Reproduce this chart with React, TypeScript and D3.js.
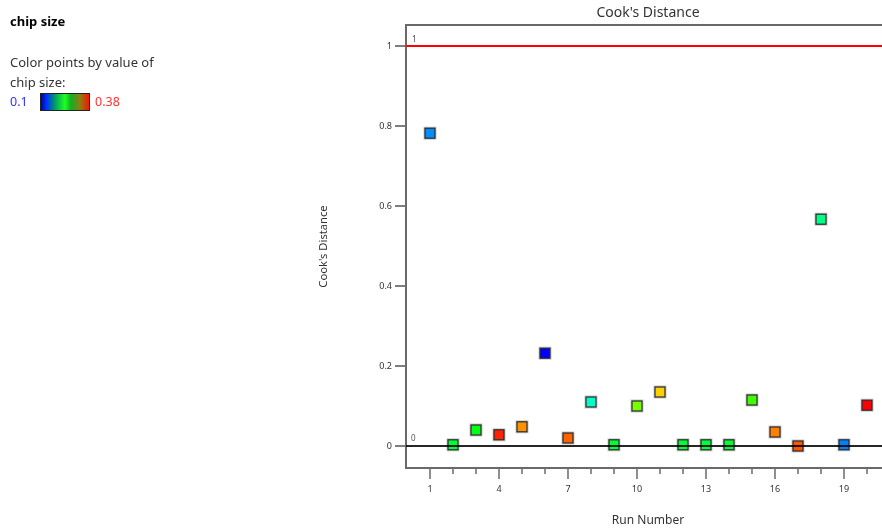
import React from 'react';
import * as d3 from 'd3';

// Run numbers, Cook's distance and chip size (used for colour)
const runs = d3.range(1, 21);
const cooks = [0.782, 0.003, 0.04, 0.028, 0.048, 0.232, 0.02, 0.11, 0.003, 0.1,
  0.135, 0.003, 0.003, 0.003, 0.115, 0.035, 0.0, 0.567, 0.003, 0.102];
const chipSize = [0.139, 0.225, 0.235, 0.37, 0.34, 0.1, 0.353, 0.185, 0.225, 0.273,
  0.323, 0.225, 0.225, 0.225, 0.258, 0.345, 0.357, 0.203, 0.135, 0.38];
const yTicks = [0, 0.2, 0.4, 0.6, 0.8, 1];
const xTickLabels = [1, 4, 7, 10, 13, 16, 19];
const chipRange = [0.1, 0.38];
const limitValue = 1;

const font = "'Noto Sans', 'Open Sans', sans-serif";

const App = () => {
  const width = 882;
  const height = 529;
  const marginLeft = 406;
  const marginTop = 25;
  const plotRight = 890;
  const plotBottom = 468;

  const x = d3.scaleLinear().domain([0, 21]).range([marginLeft + 1, plotRight]);
  const y = d3.scaleLinear().domain([0, 1]).range([446, 46]);

  // Design-Expert style hue ramp: blue (low) -> green -> red (high)
  const hue = d3.scaleLinear().domain(chipRange).range([240, 0]);
  const color = (v: number) => d3.hsl(hue(v), 1, 0.5).formatHex();

  const cx = (marginLeft + plotRight) / 2;
  const sq = 10;

  return (
    <div style={{ position: 'fixed', left: 0, top: 0 }}>
      <svg width={width} height={height} style={{ display: 'block', fontFamily: font }}>
        <defs>
          <linearGradient id="ramp" x1="0" x2="1" y1="0" y2="0">
            <stop offset="0" stopColor="#00008a" />
            <stop offset="0.12" stopColor="#0030ff" />
            <stop offset="0.3" stopColor="#00a060" />
            <stop offset="0.5" stopColor="#20ff20" />
            <stop offset="0.62" stopColor="#10b020" />
            <stop offset="0.8" stopColor="#8a8010" />
            <stop offset="1" stopColor="#ff1000" />
          </linearGradient>
          <clipPath id="plot">
            <rect x={marginLeft} y={marginTop} width={plotRight - marginLeft} height={plotBottom - marginTop} />
          </clipPath>
        </defs>

        {/* legend */}
        <text x={10} y={26} fontSize={13} fontWeight="bold" fill="#000">chip size</text>
        <text x={10} y={67} fontSize={13} fill="#333">Color points by value of</text>
        <text x={10} y={87} fontSize={13} fill="#333">chip size:</text>
        <text x={10} y={106} fontSize={12.5} fill="#3030ff">{chipRange[0]}</text>
        <rect x={40.5} y={93.5} width={49} height={17} fill="url(#ramp)" stroke="#222" strokeWidth={1} />
        <text x={95} y={106} fontSize={12.5} fill="#ff3030">{chipRange[1]}</text>

        {/* title and axis titles */}
        <text x={cx} y={17} fontSize={14} textAnchor="middle" fill="#333">Cook's Distance</text>
        <text x={648} y={524} fontSize={12} textAnchor="middle" fill="#333">Run Number</text>
        <text transform={`translate(327,${(marginTop + plotBottom) / 2}) rotate(-90)`} fontSize={11.2}
          textAnchor="middle" fill="#333">Cook's Distance</text>

        {/* y axis ticks */}
        {yTicks.map(t => (
          <g key={t}>
            <line x1={395} x2={marginLeft} y1={y(t)} y2={y(t)} stroke="#555" strokeWidth={1.5} />
            <text x={392} y={y(t) + 3} fontSize={9} textAnchor="end" fill="#333">{t}</text>
          </g>
        ))}

        {/* x axis ticks */}
        {runs.map(r => {
          const major = xTickLabels.includes(r);
          return (
            <line key={r} x1={x(r)} x2={x(r)} y1={plotBottom} y2={plotBottom + (major ? 11 : 6)}
              stroke="#444" strokeWidth={1.2} />
          );
        })}
        {xTickLabels.map(t => (
          <text key={t} x={x(t)} y={492} fontSize={9} textAnchor="middle" fill="#333">{t}</text>
        ))}

        {/* frame */}
        <path d={`M${plotRight},${marginTop}H${marginLeft}V${plotBottom}H${plotRight}`}
          fill="none" stroke="#6a6a6a" strokeWidth={2} />

        <g clipPath="url(#plot)">
          {/* reference lines */}
          <line x1={marginLeft} x2={plotRight} y1={y(limitValue)} y2={y(limitValue)} stroke="#ff0000" strokeWidth={2.2} />
          <text x={412} y={y(limitValue) - 4} fontSize={8} fill="#444">{limitValue}</text>
          <text x={411} y={y(0) - 5} fontSize={8} fill="#555">0</text>

          {/* points */}
          {runs.map((r, i) => (
            <g key={r}>
              <rect x={x(r) - sq / 2} y={y(cooks[i]) - sq / 2} width={sq} height={sq}
                fill="none" stroke="#c8c8c8" strokeWidth={3} />
              <rect x={x(r) - sq / 2} y={y(cooks[i]) - sq / 2} width={sq} height={sq}
                fill={color(chipSize[i])} stroke="#2a2a2a" strokeWidth={1.2} />
            </g>
          ))}

          <line x1={marginLeft} x2={plotRight} y1={y(0)} y2={y(0)} stroke="#000" strokeWidth={2} strokeOpacity={0.85} />
        </g>
      </svg>
    </div>
  );
};

export default App;
